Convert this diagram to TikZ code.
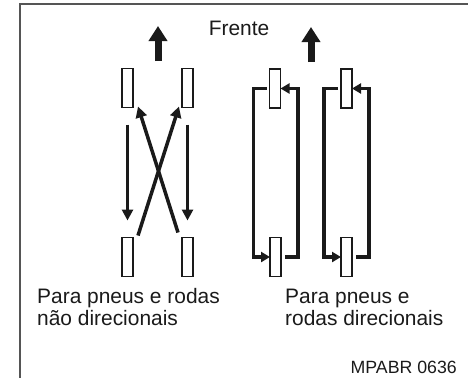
\documentclass[tikz,border=0pt]{standalone}
\usepackage{fontspec}
\setmainfont{Liberation Sans}
\usetikzlibrary{arrows.meta,calc}
\definecolor{ink}{HTML}{1A1A1A}
\definecolor{framec}{HTML}{555555}
\tikzset{
  tire/.style={draw=ink, line width=1.4bp, fill=white, minimum width=11bp, minimum height=39bp, inner sep=0pt, outer sep=0pt},
  bigarrow/.style={draw=ink, line width=7bp, -{Triangle[width=18bp,length=15bp]}},
  movearrow/.style={draw=ink, line width=3.5bp, -{Triangle[width=11bp,length=11bp]}},
  looparrow/.style={draw=ink, line width=3.3bp, -{Triangle[width=10bp,length=9bp]}},
  lbl/.style={text=ink, inner sep=0pt, align=left, font=\fontsize{21}{22}\selectfont},
}
\begin{document}
\begin{tikzpicture}[x=1bp, y=-1bp]
\useasboundingbox (0,0) rectangle (468,378);
\fill[white] (0,0) rectangle (468,378);
% frame
\coordinate (fr1) at (468,4);
\coordinate (fr2) at (20,4);
\coordinate (fr3) at (20,378);
\draw[framec, line width=1.6bp] (fr1) -- (fr2) -- (fr3);

% labels
\node[lbl, anchor=base] (frente) at (239,35) {Frente};
\node[lbl, anchor=base west] (lbl1) at (37,325) {Para pneus e rodas\\não direcionais};
\node[lbl, anchor=base west] (lbl2) at (285,325) {Para pneus e\\rodas direcionais};
\node[lbl, anchor=base east, font=\fontsize{17.8}{20}\selectfont] (code) at (457,373) {MPABR 0636};

% big forward arrows
\coordinate (a1s) at (158,61);
\coordinate (a1e) at (158,26);
\draw[bigarrow] (a1s) -- (a1e);
\coordinate (a2s) at (311,62);
\coordinate (a2e) at (311,27);
\draw[bigarrow] (a2s) -- (a2e);

% left group tires
\node[tire] (TL) at (127.5,88) {};
\node[tire] (TR) at (187.5,88) {};
\node[tire] (BL) at (127.5,257) {};
\node[tire] (BR) at (187.5,257) {};

\draw[movearrow] ([yshift=-17bp]TL.south) -- ([yshift=17bp]BL.north);
\draw[movearrow] ([yshift=-17bp]TR.south) -- ([yshift=17bp]BR.north);
\draw[movearrow] ($(BL.north east)+(5,-2)$) -- ($(TR.south west)+(-3,-1)$);
\draw[movearrow] ($(BR.north west)+(-4,-5)$) -- ($(TL.south east)+(5,-1)$);

% right group tires
\node[tire] (T1) at (275,88.5) {};
\node[tire] (B1) at (275.5,257) {};
\node[tire] (T2) at (346.5,88.5) {};
\node[tire] (B2) at (346.5,257) {};

\draw[looparrow] ([xshift=4bp]B1.east) -- ++(13,0) |- (T1.east);
\draw[looparrow] ([xshift=-3bp]T1.west) -- ++(-13,0) |- (B1.west);
\draw[looparrow] ([xshift=4bp]B2.east) -- ++(13,0) |- (T2.east);
\draw[looparrow] ([xshift=-3bp]T2.west) -- ++(-14,0) |- (B2.west);
\end{tikzpicture}
\end{document}
